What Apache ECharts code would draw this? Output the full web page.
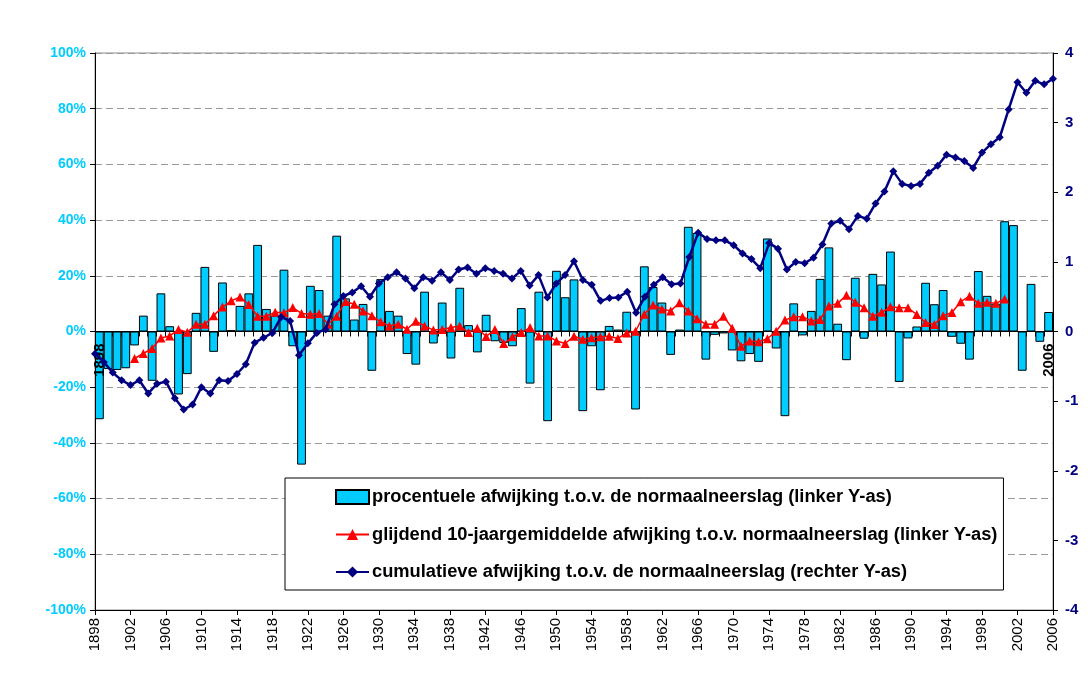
<!DOCTYPE html>
<html>
<head>
<meta charset="utf-8">
<script src="https://cdn.jsdelivr.net/npm/echarts@6/dist/echarts.min.js"></script>
<style>
html,body{margin:0;padding:0;background:#fff;}
#chart{width:1091px;height:679px;}
</style>
</head>
<body>
<div id="chart"></div>
<script>
// ---- data ----
const firstYear = 1898, lastYear = 2006;
const years = [];
for (let y = firstYear; y <= lastYear; y++) years.push(String(y));

// percentual deviation from normal precipitation (left axis, %)
const deviationPct = [
  -31.5, -13.5, -13.8, -13.2, -5.0, 5.7, -17.7, 13.7, 1.9, -22.6,      // 1898-1907
  -15.3, 6.7, 23.2, -7.3, 17.6, 0.5, 9.2, 13.7, 31.1, 8.1,             // 1908-1917
  5.7, 22.2, -5.3, -47.8, 16.4, 14.9, 5.7, 34.4, 11.9, 4.3,            // 1918-1927
  9.9, -14.1, 18.8, 7.4, 5.7, -8.1, -11.9, 14.3, -4.3, 10.4,           // 1928-1937
  -9.7, 15.7, 2.3, -7.5, 6.0, -3.5, -4.1, -5.3, 8.4, -18.7,            // 1938-1947
  14.3, -32.2, 21.8, 12.3, 18.7, -28.6, -5.3, -21.1, 2.0, 0.7,         // 1948-1957
  7.1, -28.0, 23.4, 16.0, 10.4, -8.4, 0.7, 37.6, 35.4, -10.1,          // 1958-1967
  -1.2, -0.7, -6.8, -10.7, -8.1, -10.9, 33.4, -6.1, -30.4, 10.1,       // 1968-1977
  -1.4, 7.4, 18.9, 30.2, 2.8, -10.3, 19.3, -2.6, 20.7, 16.9,           // 1978-1987
  28.7, -18.1, -2.5, 1.8, 17.5, 9.8, 14.9, -1.9, -4.4, -10.1,          // 1988-1997
  21.7, 12.8, 10.0, 39.6, 38.2, -14.1, 17.1, -3.7, 7.0                 // 1998-2006
];

// 10-year moving average (left axis, %), plotted 1902-2001
const movingAvgStart = 1902;
const movingAvgPct = [
  -9.7, -7.9, -6.1, -2.3, -1.6, 0.7, -0.3, 2.6, 2.6, 5.7,              // 1902-1911
  8.8, 11.0, 12.4, 9.7, 5.5, 5.5, 6.9, 6.7, 8.6, 6.5,                  // 1912-1921
  6.2, 6.5, 2.6, 5.5, 10.8, 9.8, 7.4, 5.7, 3.5, 2.0,                   // 1922-1931
  2.6, 0.8, 3.7, 2.0, 0.5, 0.7, 1.4, 2.0, -0.4, 1.2,                   // 1932-1941
  -1.8, 0.7, -4.3, -1.9, -0.4, 1.4, -1.6, -1.6, -3.4, -4.3,            // 1942-1951
  -1.7, -2.8, -2.2, -1.9, -1.7, -2.5, -0.5, 0.1, 6.2, 9.5,             // 1952-1961
  8.1, 7.4, 10.3, 7.4, 4.6, 2.6, 2.6, 5.5, 1.2, -5.3,                  // 1962-1971
  -3.4, -3.7, -2.6, 0.1, 4.1, 5.3, 5.3, 3.8, 4.3, 9.2,                 // 1972-1981
  10.1, 13.0, 10.5, 8.5, 5.5, 6.9, 8.9, 8.5, 8.5, 6.1,                 // 1982-1991
  3.2, 2.5, 5.7, 6.8, 10.7, 12.7, 10.1, 10.5, 10.1, 11.7               // 1992-2001
];

// cumulative deviation (right axis)
const cumulative = [
  -0.32, -0.44, -0.59, -0.70, -0.77, -0.70, -0.89, -0.75, -0.72, -0.96, // 1898-1907
  -1.12, -1.05, -0.80, -0.89, -0.70, -0.71, -0.61, -0.47, -0.16, -0.09, // 1908-1917
  -0.02, 0.21, 0.15, -0.34, -0.17, -0.02, 0.03, 0.39, 0.51, 0.56,       // 1918-1927
  0.65, 0.50, 0.69, 0.78, 0.85, 0.76, 0.62, 0.78, 0.73, 0.85,           // 1928-1937
  0.74, 0.89, 0.92, 0.83, 0.91, 0.87, 0.83, 0.76, 0.87, 0.66,           // 1938-1947
  0.81, 0.49, 0.69, 0.81, 1.01, 0.74, 0.67, 0.44, 0.48, 0.49,           // 1948-1957
  0.57, 0.27, 0.50, 0.67, 0.78, 0.68, 0.69, 1.07, 1.42, 1.33,           // 1958-1967
  1.31, 1.31, 1.24, 1.12, 1.04, 0.91, 1.27, 1.19, 0.89, 1.00,           // 1968-1977
  0.98, 1.06, 1.25, 1.55, 1.59, 1.47, 1.66, 1.62, 1.84, 2.01,           // 1978-1987
  2.30, 2.12, 2.09, 2.12, 2.28, 2.38, 2.54, 2.50, 2.45, 2.35,           // 1988-1997
  2.57, 2.69, 2.79, 3.19, 3.58, 3.43, 3.60, 3.55, 3.63                  // 1998-2006
];

const leftTicks = { min: -100, max: 100, interval: 20 };
const rightTicks = { min: -4, max: 4, interval: 1 };

const seriesNames = [
  'procentuele afwijking t.o.v. de normaalneerslag (linker Y-as)',
  'glijdend 10-jaargemiddelde afwijking t.o.v. normaalneerslag (linker Y-as)',
  'cumulatieve afwijking t.o.v. de normaalneerslag (rechter Y-as)'
];

// ---- build series data ----
const endLabel = (text, pos) => ({
  show: true, formatter: text, position: pos, distance: 12,
  rotate: 90, align: 'right', verticalAlign: 'middle',
  color: '#000', fontFamily: 'Liberation Sans, Arial, sans-serif',
  fontSize: 15, fontWeight: 'bold'
});
const barData = deviationPct.map((v, i) => {
  if (i === 0 || i === deviationPct.length - 1) {
    return { value: v, label: endLabel(years[i], v < 0 ? 'insideTop' : 'bottom') };
  }
  return v;
});
const offset = years.indexOf(String(movingAvgStart));
const avgData = years.map((y, i) => {
  const k = i - offset;
  return (k >= 0 && k < movingAvgPct.length) ? movingAvgPct[k] : null;
});

const FONT = 'Liberation Sans, Arial, sans-serif';
const chart = echarts.init(document.getElementById('chart'), null, { renderer: 'canvas' });
chart.setOption({
  animation: false,
  backgroundColor: '#fff',
  textStyle: { fontFamily: FONT },
  grid: { left: 95, right: 38, top: 53, bottom: 69, show: true, borderColor: '#8c8c8c', borderWidth: 1, backgroundColor: 'transparent' },
  legend: {
    orient: 'vertical', left: 285, top: 478,
    padding: [10, 6, 9, 50], itemGap: 19.5, itemWidth: 33, itemHeight: 14,
    borderColor: '#000', borderWidth: 1, backgroundColor: '#fff',
    textStyle: { fontFamily: FONT, fontSize: 18.3, fontWeight: 'bold', color: '#000', padding: [0, 0, 0, -2] },
    data: [
      { name: seriesNames[0], icon: 'rect' },
      { name: seriesNames[1] },
      { name: seriesNames[2] }
    ]
  },
  xAxis: [
    {
      type: 'category', data: years, boundaryGap: true, position: 'bottom',
      axisLine: { onZero: true, lineStyle: { color: '#000', width: 1 } },
      axisTick: { show: true, interval: 0, length: 5, lineStyle: { color: '#000' } },
      axisLabel: { show: false }, splitLine: { show: false }
    },
    {
      type: 'category', data: years, boundaryGap: false, position: 'bottom',
      axisLine: { onZero: false, lineStyle: { color: '#000', width: 1 } },
      axisTick: { show: true, interval: 3, length: 5, lineStyle: { color: '#000' } },
      axisLabel: { interval: 3, rotate: 90, fontSize: 15, color: '#000', fontFamily: FONT, margin: 8 },
      splitLine: { show: false }
    }
  ],
  yAxis: [
    {
      type: 'value', min: leftTicks.min, max: leftTicks.max, interval: leftTicks.interval, position: 'left',
      axisLine: { show: true, lineStyle: { color: '#000' } },
      axisTick: { show: true, length: 5, lineStyle: { color: '#000' } },
      axisLabel: { formatter: '{value}%', color: '#00ccff', fontWeight: 'bold', fontSize: 14, fontFamily: FONT, margin: 9 },
      splitLine: { show: true, lineStyle: { color: '#999', type: [7, 4], width: 1 } }
    },
    {
      type: 'value', min: rightTicks.min, max: rightTicks.max, interval: rightTicks.interval, position: 'right',
      axisLine: { show: true, lineStyle: { color: '#000' } },
      axisTick: { show: true, length: 5, lineStyle: { color: '#000' } },
      axisLabel: { color: '#000080', fontWeight: 'bold', fontSize: 15, fontFamily: FONT, margin: 12 },
      splitLine: { show: false }
    }
  ],
  series: [
    {
      name: seriesNames[0], type: 'bar', xAxisIndex: 0, yAxisIndex: 0,
      data: barData, barCategoryGap: '0%', clip: false,
      itemStyle: { color: '#00ccff', borderColor: '#000', borderWidth: 1 },
      z: 2
    },
    {
      name: seriesNames[1], type: 'line', xAxisIndex: 0, yAxisIndex: 0,
      data: avgData, symbol: 'triangle', symbolSize: 9, showAllSymbol: true,
      lineStyle: { color: '#ff0000', width: 1.5 },
      itemStyle: { color: '#ff0000' },
      z: 3
    },
    {
      name: seriesNames[2], type: 'line', xAxisIndex: 1, yAxisIndex: 1,
      data: cumulative, symbol: 'diamond', symbolSize: 8, showAllSymbol: true,
      lineStyle: { color: '#000080', width: 2.5 },
      itemStyle: { color: '#000080' },
      z: 4
    }
  ]
});
</script>
</body>
</html>
